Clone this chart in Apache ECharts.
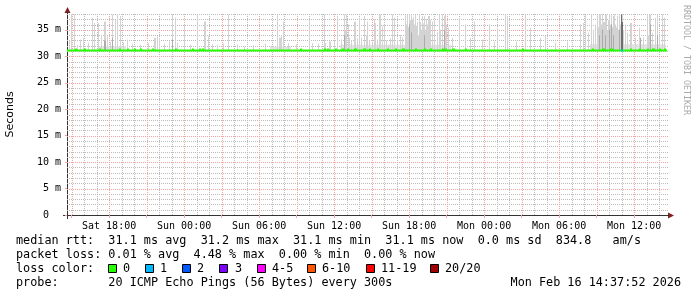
<!DOCTYPE html>
<html><head><meta charset="utf-8">
<script src="https://cdn.jsdelivr.net/npm/echarts@6/dist/echarts.min.js"></script>
<style>html,body{margin:0;padding:0;background:#fff}#c{width:697px;height:297px}</style>
</head><body><div id="c"></div>
<script>
// ---- time frame (hours since Sat 00:00) ----
const startHour = 14 + 37/60 + 52/3600;   // Sat 14:37:52
const stepHour = 5/60;                    // one sample every 300 s
const sampleCount = 576;                  // 48 h
const yMax = 38;

// ---- axis ticks ----
const xLabelHours = [18, 24, 30, 36, 42, 48, 54, 60];
const xMajorHours = [15, 18, 21, 24, 27, 30, 33, 36, 39, 42, 45, 48, 51, 54, 57, 60];
const xMinorHours = [16, 17, 19, 20, 22, 23, 25, 26, 28, 29, 31, 32, 34, 35, 37, 38, 40, 41, 43, 44, 46, 47, 49, 50, 52, 53, 55, 56, 58, 59, 61, 62];
const yMajorValues = [0, 5, 10, 15, 20, 25, 30, 35];
const yMajorLines = [5, 10, 15, 20, 25, 30, 35];
const yMinorValues = [1, 2, 3, 4, 6, 7, 8, 9, 11, 12, 13, 14, 16, 17, 18, 19, 21, 22, 23, 24, 26, 27, 28, 29, 31, 32, 33, 34, 36, 37, 38];
const dayNames = ['Sat', 'Sun', 'Mon'];

// ---- median rtt (ms) ----
const medianLevel = 31.1;
const medianBumps = [[8,9],[16,17],[31,32],[50,51],[58,59],[64,65],[70,71],[82,83],[104,105],[120,121],[127,128],[130,131],
  [224,225],[247,248],[250,251],[257,258],[264,265],[269,270],[276,277],[284,286],[290,291],[298,299],[307,308],[315,316],
  [322,323],[334,335],[343,344],[348,349],[360,361],[363,364],[370,371],[382,383],[437,438],[504,505],[514,515],[521,523],
  [540,541],[549,550],[557,558],[562,563],[568,569],[573,574]];
const medianBumpValue = 31.3;
const lossSampleIdx = [532];
const lossSampleCount = [1];

// ---- smoke (ms): sample index, highest ping ----
const spikeIdx = [2,4,7,10,12,15,20,24,26,30,33,36,38,41,43,46,48,51,54,58,62,70,78,84,86,88,93,98,101,104,106,112,118,125,132,135,139,
  144,150,155,163,170,179,190,202,204,205,207,212,220,232,235,241,247,248,252,256,259,263,266,267,268,270,271,273,276,278,280,
  282,285,287,288,290,293,295,296,298,300,302,304,306,308,310,312,314,317,320,322,324,325,326,327,328,329,330,331,332,333,334,335,336,337,338,339,340,341,342,343,344,345,346,347,348,350,352,355,357,358,360,362,363,364,366,370,376,382,387,391,398,405,410,413,420,422,
  431,440,444,454,459,468,480,492,495,497,500,503,505,507,509,510,511,512,513,514,515,516,517,518,519,520,521,522,523,524,525,526,527,528,529,530,531,532,533,534,536,538,540,541,545,549,553,557,558,559,560,562,564,566,568,571,573];
const spikeTop = [33.0,38,37.9,32.2,33.2,33.5,32.6,37.3,36.3,36.3,34.1,36.6,33.8,32.8,37.9,36.9,38,37.6,32.6,33.2,32.4,32.2,32.5,33.5,33.8,33.5,32.4,32.8,37.9,37.3,32.5,36.0,32.2,37.9,36.6,33.8,32.3,
  32.2,32.4,37.9,32.3,31.8,32.2,32.4,37.9,33.5,34,36.6,32.5,32.3,36.9,32.5,32.4,37.9,32.5,32.8,33.0,37.6,33.2,37.9,35.0,37.9,36,33.5,33.0,36.6,33.4,37.3,
  33.5,37.6,34.0,36.6,33.0,32.5,37.0,36.3,33.2,37.9,35.7,36.0,33.0,32.2,33.4,37.9,37.3,33.0,34.1,33.6,37.9,36.0,37.9,35.5,37.9,36.8,37.9,37.0,37.5,36.0,37.9,35.8,36.5,34.0,37.9,36.5,35.0,37.6,36.2,37.6,35.0,37.0,36.0,37.6,36.9,36.6,36.9,34.5,37.9,35.0,37.9,37.6,37.9,36.0,35.4,33.5,37.3,36.0,33.5,36.6,33.2,36.0,32.8,35.4,37.9,37.6,
  32.8,37.9,35.4,33.5,33.8,32.6,32.8,36.0,36.3,38,34.5,37.9,35.0,36.0,37.9,35.5,37.9,37.9,36.0,37.9,36.5,37.9,37.9,35.0,36.8,38,36.0,37.9,35.5,37.6,37.9,36.0,35.5,37.6,35.0,37.9,36.0,37.9,37.9,35.0,36.0,34.5,36.3,36.3,33.5,35.4,33.6,37.9,34.0,37.9,37.9,34.5,37.3,37.9,34.0,37.9,37.3];
// medium-grey core of the smoke
const coreIdx = [36,43,101,266,328,330,343,362,511,514,516,520,522,524,530,550,560,566];
const coreTop = [33.0,33.5,33.2,34.0,36.0,34.5,34.0,35.0,34.0,35.0,34.0,35.0,36.0,34.0,35.0,33.5,36.0,34.0];
// darkest core of the smoke
const darkIdx = [532, 533];
const darkTop = [37.9, 36.5];
// light haze just above the median: [first sample, last sample, top ms]
const hazeRanges = [[30,56,31.9],[195,214,31.8],[262,368,32.2],[502,574,32.3]];

const lossColors = ['#26ff00','#00b8ff','#0059ff','#7e00ff','#ff00ff','#ff5500','#ff0000','#a10000'];
const lossLabels = ['0','1','2','3','4-5','6-10','11-19','20/20'];

const sampleHour = i => startHour + i * stepHour;
const endHour = startHour + sampleCount * stepHour;

function rectItem(api, h0, h1, v0, v1, fill) {
  const a = api.coord([h0, v1]), b = api.coord([h1, v0]);
  const x = Math.round(a[0]), w = Math.max(1, Math.round(b[0]) - x);
  return {type: 'rect', shape: {x: x, y: a[1], width: w, height: b[1] - a[1]}, style: {fill: fill}};
}
function vLine(color) {
  return (p, api) => {
    const a = api.coord([api.value(0), 0]), b = api.coord([api.value(0), yMax]);
    const x = Math.round(a[0]) + 0.5;
    return {type: 'line', shape: {x1: x, y1: Math.round(a[1]), x2: x, y2: Math.round(b[1])}, style: {stroke: color, lineWidth: 1, lineDash: [1, 1]}};
  };
}
function hLine(color) {
  return (p, api) => {
    const a = api.coord([startHour, api.value(0)]), b = api.coord([endHour, api.value(0)]);
    const y = Math.round(a[1]) + 0.5;
    return {type: 'line', shape: {x1: Math.round(a[0]), y1: y, x2: Math.round(b[0]) + 1, y2: y}, style: {stroke: color, lineWidth: 1, lineDash: [1, 1]}};
  };
}

const chart = echarts.init(document.getElementById('c'), null, {renderer: 'canvas'});
const mono = '"DejaVu Sans Mono", monospace';
const legendFont = '11.8px ' + mono;
const minorColor = '#bcbcbc';
const majorColor = '#f5a3a3';

const legendY = [241, 255, 269, 283];
const lossBoxX = [108, 145, 182, 219, 257, 307, 366, 430];
const lossTextX = [123, 160, 197, 235, 272, 322, 381, 445];
const graphics = [
  {type: 'text', x: 16, y: legendY[0], style: {text: 'median rtt:  31.1 ms avg  31.2 ms max  31.1 ms min  31.1 ms now  0.0 ms sd  834.8   am/s', font: legendFont, fill: '#000', textVerticalAlign: 'middle'}},
  {type: 'text', x: 16, y: legendY[1], style: {text: 'packet loss: 0.01 % avg  4.48 % max  0.00 % min  0.00 % now', font: legendFont, fill: '#000', textVerticalAlign: 'middle'}},
  {type: 'text', x: 16, y: legendY[2], style: {text: 'loss color:', font: legendFont, fill: '#000', textVerticalAlign: 'middle'}},
  {type: 'text', x: 16, y: legendY[3], style: {text: 'probe:       20 ICMP Echo Pings (56 Bytes) every 300s', font: legendFont, fill: '#000', textVerticalAlign: 'middle'}},
  {type: 'text', x: 681, y: legendY[3], style: {text: 'Mon Feb 16 14:37:52 2026', font: legendFont, fill: '#000', textAlign: 'right', textVerticalAlign: 'middle'}},
  {type: 'text', x: 686, y: 5, rotation: -Math.PI / 2, style: {text: 'RRDTOOL / TOBI OETIKER', font: '8.3px ' + mono, fill: '#aaaaaa', textAlign: 'left', textVerticalAlign: 'middle'}},
  {type: 'polygon', shape: {points: [[67.5, 7], [64.5, 13], [70.5, 13]]}, style: {fill: '#7f1f1f'}},
  {type: 'polygon', shape: {points: [[674, 215.5], [668, 212.5], [668, 218.5]]}, style: {fill: '#7f1f1f'}},
  {type: 'line', shape: {x1: 67.5, y1: 12, x2: 67.5, y2: 219}, style: {stroke: '#333', lineWidth: 1}},
  {type: 'line', shape: {x1: 63, y1: 215.5, x2: 669, y2: 215.5}, style: {stroke: '#333', lineWidth: 1}}
];
lossColors.forEach((c, k) => {
  graphics.push({type: 'rect', shape: {x: lossBoxX[k] + 0.5, y: legendY[2] - 4.5, width: 8, height: 8}, style: {fill: c, stroke: '#000', lineWidth: 1}});
  graphics.push({type: 'text', x: lossTextX[k], y: legendY[2], style: {text: lossLabels[k], font: legendFont, fill: '#000', textVerticalAlign: 'middle'}});
});

const option = {
  animation: false,
  backgroundColor: '#ffffff',
  grid: {left: 67, right: 30, top: 14, bottom: 82, containLabel: false, outerBoundsMode: 'none'},
  xAxis: {type: 'value', min: startHour, max: endHour, position: 'bottom',
    axisLine: {show: true, lineStyle: {color: '#333', width: 1}},
    axisTick: {show: true, length: 3, customValues: xMajorHours, lineStyle: {color: majorColor}},
    axisLabel: {show: true, customValues: xLabelHours, margin: 6, fontFamily: mono, fontSize: 10, color: '#000',
      formatter: v => dayNames[Math.floor(v / 24)] + ' ' + String(v % 24).padStart(2, '0') + ':00'},
    splitLine: {show: false}},
  yAxis: {type: 'value', min: 0, max: yMax, position: 'left',
    name: 'Seconds', nameLocation: 'middle', nameGap: 51, nameRotate: 90,
    nameTextStyle: {fontFamily: '"DejaVu Sans", sans-serif', fontSize: 11, color: '#000'},
    axisLine: {show: true, lineStyle: {color: '#333', width: 1}},
    axisTick: {show: true, length: 2, customValues: yMajorValues, lineStyle: {color: majorColor}},
    axisLabel: {show: true, customValues: yMajorValues, margin: 6, fontFamily: mono, fontSize: 10, color: '#000',
      formatter: v => v === 0 ? '0  ' : v + ' m'},
    splitLine: {show: false}},
  series: [
    {type: 'custom', name: 'xMinorGrid', silent: true, z: 1, clip: false, data: xMinorHours.map(h => [h]), renderItem: vLine(minorColor)},
    {type: 'custom', name: 'yMinorGrid', silent: true, z: 1, clip: false, data: yMinorValues.map(v => [v]), renderItem: hLine(minorColor)},
    {type: 'custom', name: 'xMajorGrid', silent: true, z: 1, clip: false, data: xMajorHours.map(h => [h]), renderItem: vLine(majorColor)},
    {type: 'custom', name: 'yMajorGrid', silent: true, z: 1, clip: false, data: yMajorLines.map(v => [v]), renderItem: hLine(majorColor)},
    {type: 'custom', name: 'haze', clip: true, z: 2,
      data: hazeRanges.map(r => [sampleHour(r[0]), sampleHour(r[1] + 1), r[2]]),
      renderItem: (p, api) => rectItem(api, api.value(0), api.value(1), medianLevel, api.value(2), '#e2e2e2')},
    {type: 'custom', name: 'smoke', clip: true, z: 3,
      data: spikeIdx.map((i, k) => [sampleHour(i), spikeTop[k]]),
      renderItem: (p, api) => rectItem(api, api.value(0), api.value(0) + stepHour, medianLevel, api.value(1), '#d3d3d3')},
    {type: 'custom', name: 'core', clip: true, z: 4,
      data: coreIdx.map((i, k) => [sampleHour(i), coreTop[k]]),
      renderItem: (p, api) => rectItem(api, api.value(0), api.value(0) + stepHour, medianLevel, api.value(1), '#ababab')},
    {type: 'custom', name: 'darkCore', clip: true, z: 4,
      data: darkIdx.map((i, k) => [sampleHour(i), darkTop[k]]),
      renderItem: (p, api) => rectItem(api, api.value(0), api.value(0) + stepHour, medianLevel, api.value(1), '#6e6e6e')},
    {type: 'line', name: 'median', z: 5, symbol: 'none', silent: true,
      data: [[startHour, medianLevel], [endHour, medianLevel]],
      lineStyle: {color: lossColors[0], width: 2}},
    {type: 'custom', name: 'medianBumps', clip: true, z: 6,
      data: medianBumps.map(b => [sampleHour(b[0]), sampleHour(b[1] + 1), medianBumpValue]),
      renderItem: (p, api) => {
        const a = api.coord([api.value(0), api.value(2)]), b = api.coord([api.value(1), api.value(2)]);
        return {type: 'rect', shape: {x: Math.round(a[0]), y: a[1] - 1, width: Math.max(1, Math.round(b[0]) - Math.round(a[0])), height: 2}, style: {fill: lossColors[0]}};
      }},
    {type: 'custom', name: 'loss', clip: true, z: 7,
      data: lossSampleIdx.map((i, k) => [sampleHour(i), lossSampleCount[k]]),
      renderItem: (p, api) => {
        const a = api.coord([api.value(0), medianLevel]), b = api.coord([api.value(0) + stepHour, medianLevel]);
        return {type: 'rect', shape: {x: Math.round(a[0]), y: a[1] - 1, width: Math.max(2, Math.round(b[0]) - Math.round(a[0])), height: 2}, style: {fill: lossColors[api.value(1)]}};
      }}
  ],
  graphic: graphics
};
chart.setOption(option);
</script></body></html>
